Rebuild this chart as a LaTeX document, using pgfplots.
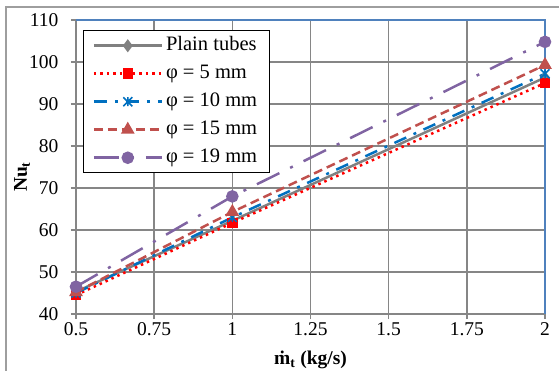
\documentclass[border=0pt]{standalone}
\usepackage{pgfplots}
\pgfplotsset{compat=1.18}
\usepackage{fontspec}
\setmainfont{Liberation Serif}
\definecolor{gridgray}{RGB}{134,134,134}
\definecolor{plaingray}{RGB}{128,128,128}
\definecolor{xblue}{RGB}{0,112,192}
\definecolor{xbrown}{RGB}{192,80,77}
\definecolor{xpurple}{RGB}{128,100,162}
\definecolor{frameblue}{RGB}{79,129,189}
\pgfdeclareplotmark{xstar}{%
 \pgfpathmoveto{\pgfqpoint{-\pgfplotmarksize}{-\pgfplotmarksize}}\pgfpathlineto{\pgfqpoint{\pgfplotmarksize}{\pgfplotmarksize}}%
 \pgfpathmoveto{\pgfqpoint{-\pgfplotmarksize}{\pgfplotmarksize}}\pgfpathlineto{\pgfqpoint{\pgfplotmarksize}{-\pgfplotmarksize}}%
 \pgfpathmoveto{\pgfqpoint{0pt}{-\pgfplotmarksize}}\pgfpathlineto{\pgfqpoint{0pt}{\pgfplotmarksize}}%
 \pgfusepathqstroke}
\begin{document}
\begin{tikzpicture}[x=1pt,y=1pt]
\draw[gridgray!80, line width=1.2pt] (6,-10) -- (6,363) -- (570,363);
\begin{axis}[
  at={(76pt,56pt)}, anchor=south west,
  scale only axis, width=469pt, height=294pt,
  xmin=0.5, xmax=2, ymin=40, ymax=110,
  xtick={0.5,0.75,1,1.25,1.5,1.75,2},
  xticklabels={0.5,0.75,1,1.25,1.5,1.75,2},
  ytick={40,50,60,70,80,90,100,110},
  grid=major, major grid style={draw=gridgray, line width=1.5pt},
  axis line style={draw=none},
  tick align=outside, xtick pos=bottom, ytick pos=left,
  major tick length=5pt, tick style={draw=gridgray, line width=1.5pt},
  ticklabel style={font=\fontsize{19.5}{22}\selectfont},
  yticklabel style={xshift=-9pt},
  /pgf/number format/assume math mode=true,
  clip=false,
  xlabel={\textbf{\.{m}\textsubscript{t} (kg/s)}},
  ylabel={\textbf{Nu\textsubscript{t}}},
  label style={font=\fontsize{19.5}{22}\selectfont},
  x label style={at={(axis description cs:0.5,-0.155)}, anchor=center},
  y label style={at={(axis description cs:-0.115,0.466)}, anchor=center, rotate=0},
  legend style={at={(0.015,0.966)}, anchor=north west, draw=black, line width=1pt, fill=white,
     font=\fontsize{20.5}{23}\selectfont, inner xsep=9pt, inner ysep=3pt,
     nodes={inner sep=3pt, text height=14pt, text depth=4.5pt}, row sep=3.5pt},
  legend cell align=left,
  legend image code/.code={\draw[line width=2.5pt, mark repeat=2, mark phase=2] plot coordinates {(0pt,0pt) (34pt,0pt) (68pt,0pt)};},
  every axis plot/.append style={line width=2.5pt},
]
\draw[gridgray, line width=1.5pt] (rel axis cs:0,1) -- (rel axis cs:0,0) -- (rel axis cs:1,0);
\draw[frameblue, line width=2pt] (rel axis cs:0,1) -- (rel axis cs:1,1) -- (rel axis cs:1,0);
\addplot[plaingray, solid, mark=diamond*, mark size=4.5pt, mark options={solid}] coordinates {(0.5,45.3) (1,62.2) (2,96.3)};
\addlegendentry{Plain tubes}
\addplot[red, dash pattern=on 2.5pt off 4pt, mark=square*, mark size=4pt, mark options={solid}] coordinates {(0.5,44.5) (1,61.7) (2,95.0)};
\addlegendentry{φ = 5 mm}
\addplot[xblue, dash pattern=on 13pt off 8pt on 3pt off 8pt, mark=xstar, mark size=4.5pt, mark options={solid, line width=1.5pt}] coordinates {(0.5,45.0) (1,63.0) (2,97.2)};
\addlegendentry{φ = 10 mm}
\addplot[xbrown, dash pattern=on 9pt off 5pt, mark=triangle*, mark size=5.5pt, mark options={solid}] coordinates {(0.5,45.2) (1,64.3) (2,99.3)};
\addlegendentry{φ = 15 mm}
\addplot[xpurple, dash pattern=on 25pt off 12pt on 3pt off 12pt, mark=*, mark size=5pt, mark options={solid}] coordinates {(0.5,46.5) (1,68.0) (2,104.8)};
\addlegendentry{φ = 19 mm}
\end{axis}
\pgfresetboundingbox
\useasboundingbox (0,0) rectangle (559,370);
\end{tikzpicture}
\end{document}
